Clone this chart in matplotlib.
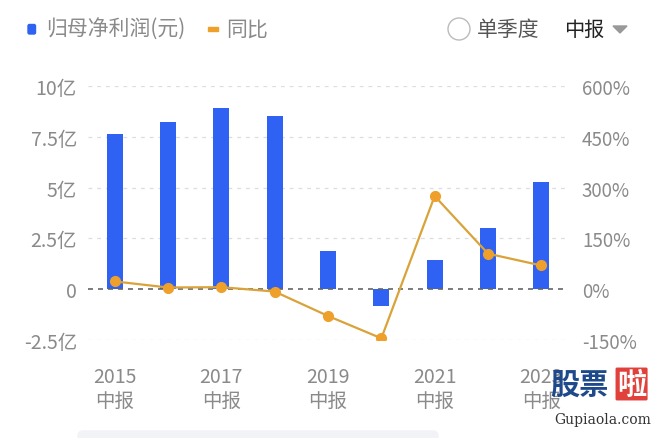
import matplotlib.pyplot as plt
import matplotlib.patches as mpatches
import numpy as np

plt.rcParams['font.family'] = ['Noto Sans CJK SC', 'DejaVu Sans']

# data
years = ['2015', '2016', '2017', '2018', '2019', '2020', '2021', '2022', '2023']
profit = [7.65, 8.22, 8.94, 8.54, 1.88, -0.82, 1.46, 3.02, 5.26]   # 亿元
yoy = [23, 5, 6, -7, -79, -145, 275, 105, 70]                        # %
left_ticks = [-2.5, 0, 2.5, 5, 7.5, 10]
left_labels = ['-2.5亿', '0', '2.5亿', '5亿', '7.5亿', '10亿']
right_ticks = [-150, 0, 150, 300, 450, 600]
right_labels = ['-150%', '0%', '150%', '300%', '450%', '600%']

blue = '#2f62f3'
orange = '#eea02a'
line_col = '#d9a33a'
gray = '#8a8a8a'

fig = plt.figure(figsize=(6.6, 4.39), dpi=100)
ax = fig.add_axes([88 / 660, 1 - 341 / 439, 480 / 660, 254 / 439])
x = np.arange(len(years))

ax.bar(x, profit, width=0.3, color=blue, zorder=2)
ax.set_xlim(-0.5, len(years) - 0.5)
ax.set_ylim(-2.5, 10)
ax.set_yticks(left_ticks)
ax.set_yticklabels(left_labels)
for t in left_ticks:
    if t == 0:
        ax.axhline(t, color='#666666', lw=1.2, ls=(0, (3, 3)), zorder=3)
    else:
        ax.axhline(t, color='#dddddd', lw=0.9, ls=(0, (3, 4)), zorder=1)

ax.set_xticks(x[::2])
ax.set_xticklabels([y + '\n中报' for y in years[::2]], linespacing=1.15)

ax2 = ax.twinx()
ax2.plot(x, yoy, color=line_col, lw=1.6, marker='o', ms=7,
         markerfacecolor=orange, markeredgecolor=orange, zorder=4)
ax2.set_ylim(-150, 600)
ax2.set_yticks(right_ticks)
ax2.set_yticklabels(right_labels)

for a in (ax, ax2):
    for s in a.spines.values():
        s.set_visible(False)
    a.tick_params(length=0, colors=gray)
ax.tick_params(axis='x', pad=19, labelsize=14)
ax.tick_params(axis='y', pad=8, labelsize=14)
ax2.tick_params(axis='y', pad=10, labelsize=13.5)

# header / legend
tr = fig.dpi_scale_trans
fig.add_artist(mpatches.FancyBboxPatch((0.28, 4.04), 0.075, 0.095,
               boxstyle='round,pad=0,rounding_size=0.015',
               color=blue, transform=tr))
fig.text(46 / 660, 1 - 30 / 439, '归母净利润(元)', fontsize=15, color=gray,
         va='center')
fig.add_artist(mpatches.Rectangle((2.08, 4.075), 0.10, 0.03, color=orange,
                                  transform=tr))
fig.text(226 / 660, 1 - 30 / 439, '同比', fontsize=15, color=gray, va='center')
fig.add_artist(mpatches.Circle((4.59, 4.09), 0.11, fill=False,
                               ec='#bbbbbb', lw=1, transform=tr))
fig.text(477 / 660, 1 - 30 / 439, '单季度', fontsize=15, color='#555555',
         va='center')
fig.text(564 / 660, 1 - 30 / 439, '中报', fontsize=14.5, color='#222222',
         va='center', fontweight='medium')
fig.add_artist(mpatches.Polygon([(6.13, 4.12), (6.27, 4.12), (6.20, 4.05)],
                                color='#999999', transform=tr))

# bottom strip
fig.add_artist(mpatches.FancyBboxPatch((0.78, -0.1), 3.6, 0.17,
               boxstyle='round,pad=0,rounding_size=0.05',
               color='#f1f3f6', transform=tr))

# watermark
fig.text(550 / 660, 1 - 385 / 439, '股票', fontsize=21, color='#1e4a8c',
         fontweight='bold', va='center')
fig.text(617 / 660, 1 - 385 / 439, '啦', fontsize=21, color='white',
         fontweight='bold', va='center',
         bbox=dict(boxstyle='round,pad=0.05', fc='#e0413a', ec='none'))
fig.text(603 / 660, 1 - 420 / 439, 'Gupiaola.com', fontsize=10,
         color='#333333', ha='center', va='center', family='DejaVu Serif')

fig.savefig('out.png', dpi=100)
